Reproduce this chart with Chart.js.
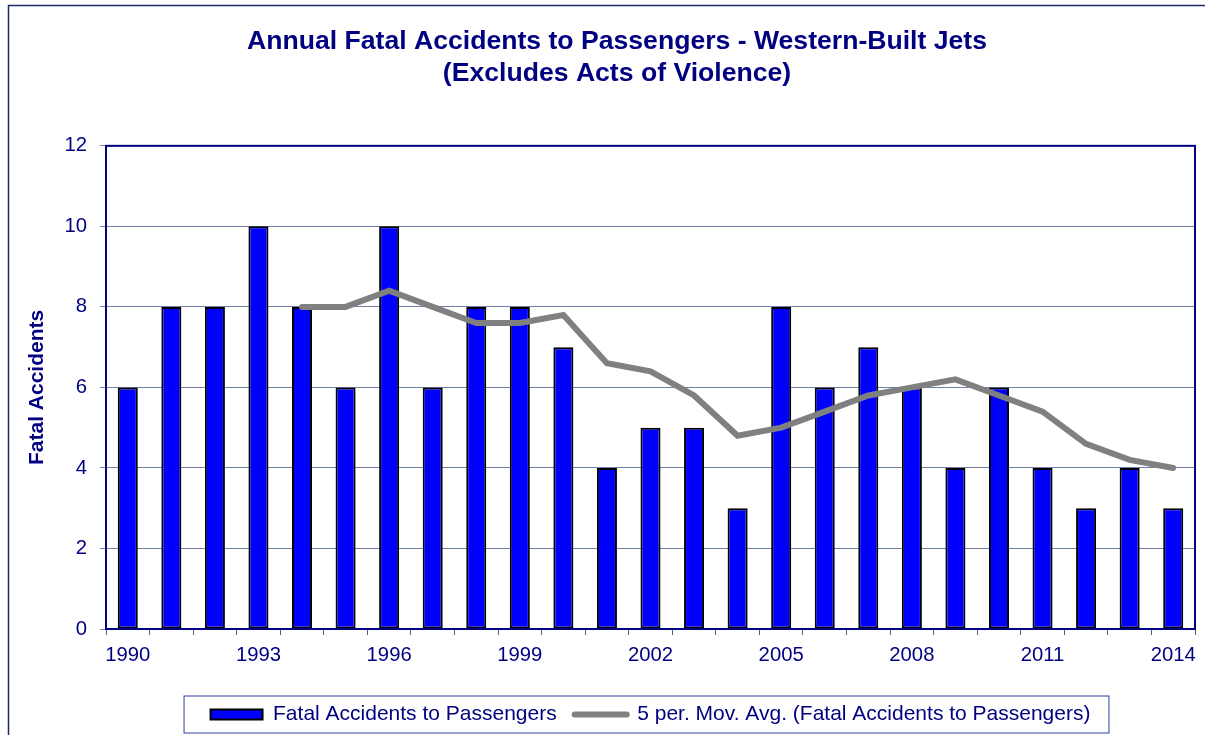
<!DOCTYPE html>
<html>
<head>
<meta charset="utf-8">
<script src="https://cdn.jsdelivr.net/npm/chart.js@4/dist/chart.umd.min.js"></script>
<style>
  html, body { margin: 0; padding: 0; background: #fff; }
  #wrap { width: 1205px; height: 735px; position: relative; }
</style>
</head>
<body>
<div id="wrap"><canvas id="accChart" width="1205" height="735"></canvas></div>
<script>
// years on the x axis
var years = ["1990", "1991", "1992", "1993", "1994", "1995", "1996", "1997", "1998", "1999",
  "2000", "2001", "2002", "2003", "2004", "2005", "2006", "2007", "2008", "2009",
  "2010", "2011", "2012", "2013", "2014"];
// fatal accidents per year (bars)
var accidents = [6, 8, 8, 10, 8, 6, 10, 6, 8, 8, 7, 4, 5, 5, 3, 8, 6, 7, 6, 4, 6, 4, 3, 4, 3];
// 5 period moving average
var movAvg = [null, null, null, null, 8, 8, 8.4, 8, 7.6, 7.6, 7.8, 6.6, 6.4, 5.8, 4.8, 5, 5.4, 5.8, 6, 6.2, 5.8, 5.4, 4.6, 4.2, 4];
var yTicks = [0, 2, 4, 6, 8, 10, 12];

var navy = "#000080";

var framePlugin = {
  id: "frames",
  beforeDraw: function(chart) {
    var ctx = chart.ctx;
    ctx.save();
    ctx.strokeStyle = "#1a2a6c";
    ctx.lineWidth = 1.5;
    ctx.strokeRect(8.5, 5.5, 1400, 1000);
    ctx.restore();
  },
  afterDraw: function(chart) {
    var ctx = chart.ctx;
    var a = chart.chartArea;
    ctx.save();
    ctx.strokeStyle = navy;
    ctx.lineWidth = 2;
    ctx.strokeRect(a.left, a.top, a.right - a.left, a.bottom - a.top);
    // box round the legend
    var hb = chart.legend.legendHitBoxes;
    if (hb && hb.length) {
      var first = hb[0], last = hb[hb.length - 1];
      var cy = first.top + first.height / 2;
      ctx.lineWidth = 1;
      ctx.strokeStyle = "#3040a0";
      ctx.strokeRect(first.left - 27 + 0.5, cy - 19 + 0.5, last.left + last.width - first.left + 45, 37);
    }
    ctx.restore();
  }
};

var chart = new Chart(document.getElementById("accChart"), {
  type: "bar",
  data: {
    labels: years,
    datasets: [{
      label: "Fatal Accidents to Passengers",
      data: accidents,
      backgroundColor: "#0000ff",
      borderColor: "#000000",
      borderWidth: 2,
      borderSkipped: false,
      barPercentage: 0.46,
      categoryPercentage: 1,
      order: 1
    }, {
      type: "line",
      label: "5 per. Mov. Avg. (Fatal Accidents to Passengers)",
      data: movAvg,
      borderColor: "#808080",
      borderWidth: 6,
      borderCapStyle: "round",
      pointRadius: 0,
      tension: 0,
      fill: false,
      order: 0
    }]
  },
  options: {
    responsive: false,
    animation: false,
    layout: { padding: { left: 39, right: 10, top: 0, bottom: 0 } },
    plugins: {
      tooltip: { enabled: false },
      title: {
        display: true,
        text: ["Annual Fatal Accidents to Passengers - Western-Built Jets", "(Excludes Acts of Violence)"],
        color: navy,
        font: { family: "Arial, 'Liberation Sans'", size: 26.6, weight: "bold" },
        padding: { top: 26, bottom: 56 }
      },
      legend: {
        position: "bottom",
        fullSize: false,
        labels: {
          usePointStyle: true,
          pointStyleWidth: 52,
          boxHeight: 10,
          padding: 18,
          color: navy,
          font: { family: "Arial, 'Liberation Sans'", size: 21 },
          generateLabels: function(c) {
            return [{
              text: c.data.datasets[0].label,
              fillStyle: "#0000ff",
              strokeStyle: "#000000",
              lineWidth: 2,
              pointStyle: "rect",
              fontColor: navy,
              datasetIndex: 0
            }, {
              text: c.data.datasets[1].label,
              fillStyle: "#808080",
              strokeStyle: "#808080",
              lineWidth: 6,
              lineCap: "round",
              pointStyle: "line",
              fontColor: navy,
              datasetIndex: 1
            }];
          }
        }
      }
    },
    scales: {
      x: {
        offset: true,
        grid: { offset: true, drawOnChartArea: false, drawTicks: true, tickLength: 6, color: "#5060a0", lineWidth: 1 },
        border: { display: true, color: navy, width: 2 },
        ticks: {
          autoSkip: false,
          maxRotation: 0,
          padding: 8,
          color: navy,
          font: { family: "Arial, 'Liberation Sans'", size: 20.3 },
          callback: function(v, i) { return i % 3 === 0 ? years[i] : ""; }
        },
        afterFit: function(s) { s.height = 57; }
      },
      y: {
        min: 0,
        max: 12,
        afterBuildTicks: function(s) { s.ticks = yTicks.map(function(v) { return { value: v }; }); },
        grid: { color: "#7080a8", lineWidth: 1, tickLength: 6 },
        border: { display: true, color: navy, width: 2 },
        ticks: {
          padding: 13,
          color: navy,
          font: { family: "Arial, 'Liberation Sans'", size: 20.3 }
        },
        title: {
          display: true,
          text: "Fatal Accidents",
          color: navy,
          font: { family: "Arial, 'Liberation Sans'", size: 21, weight: "bold" },
          padding: { top: -14, bottom: 0 }
        },
        afterFit: function(s) { s.width = 67; }
      }
    }
  },
  plugins: [framePlugin]
});
</script>
</body>
</html>
